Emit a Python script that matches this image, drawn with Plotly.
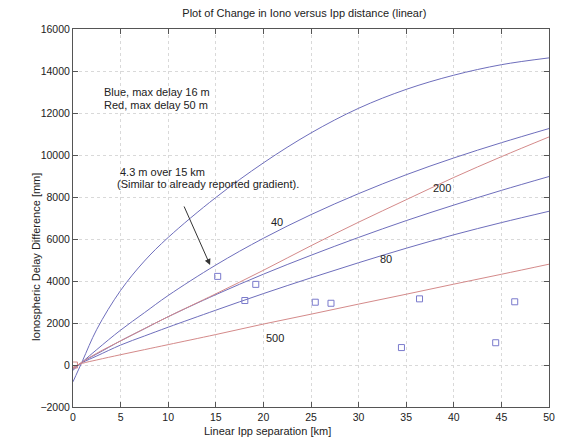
import plotly.graph_objects as go

# Separation between ionospheric pierce points [km]
sep_km = [0, 1, 2.5, 5, 7.5, 10, 15, 20, 25, 30, 35, 40, 45, 50]

# Modelled delay difference curves [mm]
blue_top = [-800, 200, 1700, 3550, 4950, 6075, 7975, 9625, 11050, 12225, 13125, 13800, 14300, 14625]
blue_40 = [-250, 150, 735, 1660, 2490, 3310, 4760, 6035, 7160, 8160, 9060, 9860, 10585, 11260]
red_200 = [-150, 150, 560, 1150, 1730, 2300, 3390, 4510, 5680, 6800, 7870, 8930, 9920, 10860]
blue_80a = [-200, 150, 525, 1150, 1725, 2300, 3350, 4325, 5225, 6075, 6875, 7615, 8315, 8975]
blue_80b = [-150, 120, 430, 950, 1380, 1800, 2610, 3400, 4150, 4870, 5560, 6200, 6780, 7320]
red_500 = [-100, 80, 240, 490, 730, 970, 1450, 1950, 2420, 2900, 3370, 3850, 4320, 4800]

# Measured delay differences [km], [mm]
meas_km = [15.2, 18.05, 19.2, 25.45, 27.1, 34.5, 36.4, 44.4, 46.4]
meas_mm = [4220, 3070, 3840, 2990, 2940, 830, 3150, 1060, 3010]
origin_km = [0.15]
origin_mm = [0]

# Curve labels
label_text = ["40", "80", "200", "500"]
label_km = [21.4, 32.9, 38.8, 21.2]
label_mm = [6830, 5070, 8450, 1300]

BLUE = "#6e6ebc"
RED = "#d48a8a"
FONT = "Liberation Sans, Arial, sans-serif"
TXT = dict(family=FONT, size=11, color="#222")

fig = go.Figure()
for ys, col in [(blue_top, BLUE), (blue_40, BLUE), (blue_80a, BLUE), (blue_80b, BLUE),
                (red_200, RED), (red_500, RED)]:
    fig.add_trace(go.Scatter(x=sep_km, y=ys, mode="lines",
                             line=dict(color=col, width=1, shape="spline", smoothing=1.0),
                             showlegend=False, hoverinfo="skip"))

fig.add_trace(go.Scatter(x=meas_km, y=meas_mm, mode="markers",
                         marker=dict(symbol="square-open", size=6, color="#7a7acc",
                                     line=dict(width=1, color="#7a7acc")),
                         showlegend=False))
fig.add_trace(go.Scatter(x=origin_km, y=origin_mm, mode="markers",
                         marker=dict(symbol="square-open", size=6, color=RED,
                                     line=dict(width=1, color=RED)),
                         showlegend=False))

for t, xk, ym in zip(label_text, label_km, label_mm):
    fig.add_annotation(x=xk, y=ym, text=t, showarrow=False, font=TXT)

fig.add_annotation(x=3.04, y=13010, text="Blue, max delay 16 m", showarrow=False,
                   xanchor="left", font=TXT)
fig.add_annotation(x=3.04, y=12380, text="Red, max delay 50 m", showarrow=False,
                   xanchor="left", font=TXT)
fig.add_annotation(x=4.7, y=9200, text="4.3 m over 15 km", showarrow=False,
                   xanchor="left", font=TXT)
fig.add_annotation(x=4.36, y=8600, text="(Similar to already reported gradient).",
                   showarrow=False, xanchor="left", font=TXT)

# Arrow pointing at the 15 km gradient
fig.add_annotation(x=14.4, y=4760, ax=11.6, ay=7620, axref="x", ayref="y",
                   text="", showarrow=True, arrowhead=2, arrowsize=1.2,
                   arrowwidth=1, arrowcolor="#333")

# Axis titles
fig.add_annotation(xref="paper", yref="paper", x=0.408, y=-0.082, yanchor="bottom",
                   borderpad=0, text="Linear Ipp separation [km]", showarrow=False,
                   font=TXT)
fig.add_annotation(xref="paper", yref="paper", x=-0.094, y=0.397, textangle=-90,
                   text="Ionospheric Delay Difference [mm]", showarrow=False, font=TXT)

axis_common = dict(showline=True, linecolor="#555", linewidth=1, mirror="ticks",
                   ticks="inside", ticklen=5, tickcolor="#555",
                   showgrid=True, gridcolor="#d9d9d9", griddash="dot", gridwidth=1,
                   zeroline=False, tickfont=dict(family=FONT, size=10.5, color="#222"))

fig.update_xaxes(range=[0, 50], dtick=5, tick0=0, **axis_common)
fig.update_yaxes(range=[-2000, 16000], dtick=2000, tick0=0, tickformat="d", **axis_common)

fig.update_layout(
    width=565, height=439,
    margin=dict(l=73, r=10, t=29, b=32),
    paper_bgcolor="white", plot_bgcolor="white",
    title=dict(text="Plot of Change in Iono versus Ipp distance (linear)",
               x=0.486, xref="paper", xanchor="center", y=1 - 13 / 439, yanchor="middle",
               font=TXT),
)

fig.write_html("out.html")
